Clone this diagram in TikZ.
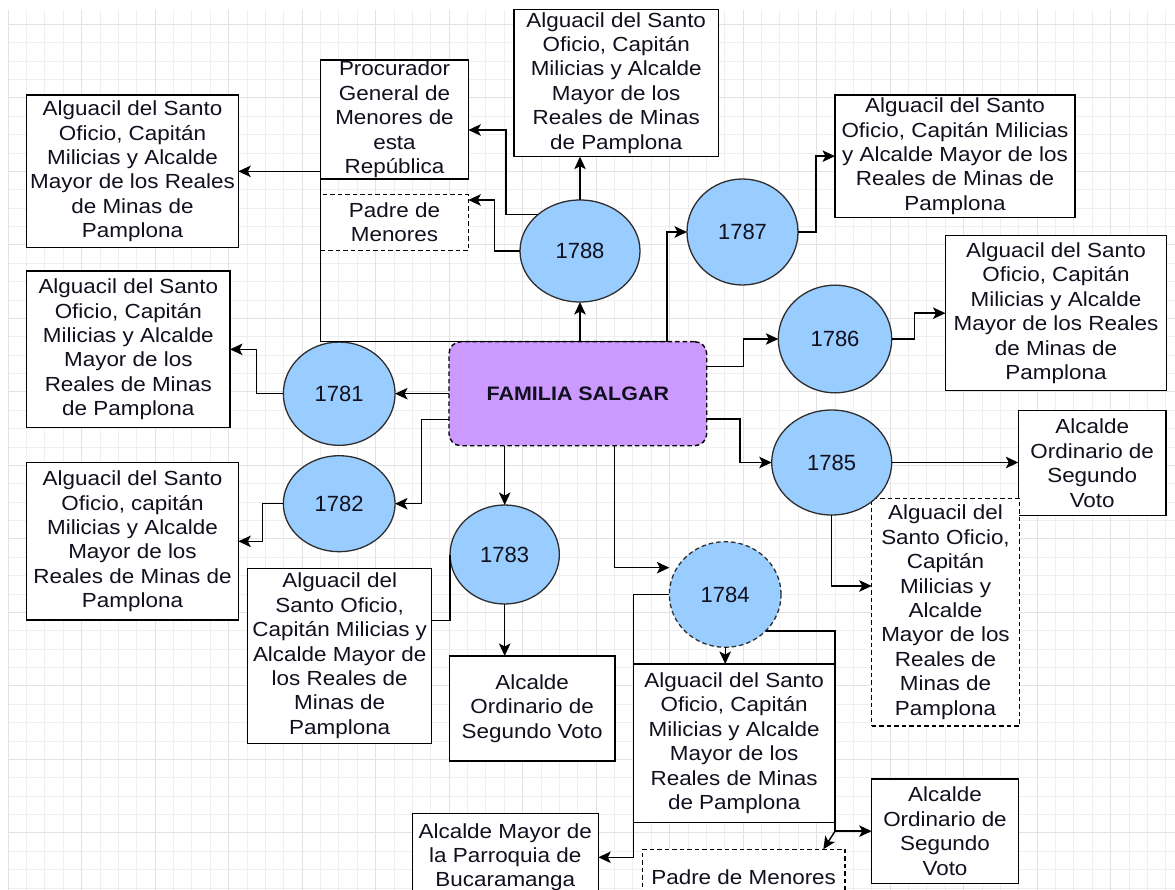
\documentclass[tikz,border=0pt]{standalone}
\usepackage{fontspec}
\setmainfont{Liberation Sans}[FakeStretch=1.1]
\newfontfamily\numfont{Liberation Sans}
\usetikzlibrary{shapes.geometric,arrows.meta,calc}

\definecolor{gridminor}{HTML}{EFEFEF}
\definecolor{gridmajor}{HTML}{E2E2E2}
\definecolor{yearfill}{HTML}{99CCFF}
\definecolor{famfill}{HTML}{CC99FF}
\definecolor{inkcol}{HTML}{10101E}
\definecolor{rimcol}{HTML}{2E2E2E}

\tikzset{
  every node/.style={inner sep=0pt, outer sep=0pt},
  txt/.style={font=\fontsize{20.4}{24.4}\selectfont, text=inkcol, align=center},
  card/.style={txt, rectangle, draw=black, fill=white, line width=1.4pt},
  dashcard/.style={card, dash pattern=on 4.5pt off 3pt},
  year/.style={ellipse, draw=rimcol, fill=yearfill, line width=1.3pt,
    font=\numfont\fontsize{22}{26}\selectfont, text=inkcol},
  family/.style={rectangle, rounded corners=12pt, draw=black, fill=famfill,
    dash pattern=on 4.5pt off 3pt, line width=1.4pt,
    font=\bfseries\fontsize{19.5}{23}\selectfont, text=inkcol},
  link/.style={draw=black, line width=1.4pt, -{Stealth[length=12.5pt,width=11.5pt,inset=3pt]}},
  plainlink/.style={draw=black, line width=1.4pt},
}

\begin{document}
\begin{tikzpicture}[x=1pt,y=-1pt]
\useasboundingbox (0,0) rectangle (1175,890);
\fill[white] (0,0) rectangle (1175,890);
\clip (8,10) rectangle (1175,890);

% background grid
\foreach \i in {0,...,63} \draw[gridminor, line width=0.7pt] ({8+18.375*\i},10) -- ++(0,880);
\foreach \j in {1,...,48} \draw[gridminor, line width=0.7pt] (8,{5.95+18.375*\j}) -- ++(1167,0);
\foreach \i in {0,...,15} \draw[gridmajor, line width=0.9pt] ({8+73.5*\i},10) -- ++(0,880);
\foreach \j in {0,...,11} \draw[gridmajor, line width=0.9pt] (8,{24.3+73.5*\j}) -- ++(1167,0);

% offices
\node[card, minimum width=204.3pt, minimum height=147.7pt] (boxT) at (616.2,82.85)
  {Alguacil del Santo\\Oficio, Capitán\\Milicias y Alcalde\\Mayor de los\\Reales de Minas\\de Pamplona};
\node[card, minimum width=211.6pt, minimum height=152.7pt] (boxA) at (132.5,171.35)
  {Alguacil del Santo\\Oficio, Capitán\\Milicias y Alcalde\\Mayor de los Reales\\de Minas de\\Pamplona};
\node[card, minimum width=147.6pt, minimum height=119pt] (proc) at (394.5,119.5)
  {Procurador\\General de\\Menores de\\esta\\República};
\node[dashcard, minimum width=147.6pt, minimum height=56.4pt] (padreT) at (394.5,222.5)
  {Padre de\\Menores};
\node[card, minimum width=240pt, minimum height=122.3pt] (boxR1) at (955,156.15)
  {Alguacil del Santo\\Oficio, Capitán Milicias\\y Alcalde Mayor de los\\Reales de Minas de\\Pamplona};
\node[card, minimum width=221pt, minimum height=155pt] (boxR2) at (1056,313.2)
  {Alguacil del Santo\\Oficio, Capitán\\Milicias y Alcalde\\Mayor de los Reales\\de Minas de\\Pamplona};
\node[card, minimum width=147.7pt, minimum height=105pt] (boxR3) at (1092.2,463.2)
  {Alcalde\\Ordinario de\\Segundo\\Voto};
\node[dashcard, minimum width=147.6pt, minimum height=227.7pt] (boxR4) at (945.5,612.2)
  {Alguacil del\\Santo Oficio,\\Capitán\\Milicias y\\Alcalde\\Mayor de los\\Reales de\\Minas de\\Pamplona};
\node[card, minimum width=203.3pt, minimum height=156.7pt] (boxB) at (128.35,349.35)
  {Alguacil del Santo\\Oficio, Capitán\\Milicias y Alcalde\\Mayor de los\\Reales de Minas\\de Pamplona};
\node[card, minimum width=211.6pt, minimum height=157.3pt] (boxC) at (132.5,541.35)
  {Alguacil del Santo\\Oficio, capitán\\Milicias y Alcalde\\Mayor de los\\Reales de Minas de\\Pamplona};
\node[card, minimum width=184pt, minimum height=175pt] (boxD) at (339.7,655.8)
  {Alguacil del\\Santo Oficio,\\Capitán Milicias y\\Alcalde Mayor de\\los Reales de\\Minas de\\Pamplona};
\node[card, minimum width=165.7pt, minimum height=105pt] (boxE) at (532.15,708.5)
  {Alcalde\\Ordinario de\\Segundo Voto};
\node[card, minimum width=201.7pt, minimum height=158.3pt] (boxF) at (734.15,743.15)
  {Alguacil del Santo\\Oficio, Capitán\\Milicias y Alcalde\\Mayor de los\\Reales de Minas\\de Pamplona};
\node[card, minimum width=146.6pt, minimum height=104.3pt] (boxG) at (945,831.15)
  {Alcalde\\Ordinario de\\Segundo\\Voto};
\node[dashcard, minimum width=202.7pt, minimum height=56.4pt] (boxH) at (743.65,877.5)
  {Padre de Menores};
\node[card, minimum width=186pt, minimum height=88pt] (boxI) at (505.3,857.3)
  {Alcalde Mayor de\\la Parroquia de\\Bucaramanga};

% family and years
\node[family, minimum width=257.7pt, minimum height=104pt] (fam) at (577.85,393.7) {FAMILIA SALGAR};
\node[year, minimum width=120pt, minimum height=102pt] (n1788) at (580,251) {1788};
\node[year, minimum width=111pt, minimum height=106pt] (n1787) at (742.5,232) {1787};
\node[year, minimum width=113.4pt, minimum height=107.7pt] (n1786) at (835,339) {1786};
\node[year, minimum width=120pt, minimum height=105pt] (n1785) at (831.7,462.5) {1785};
\node[year, minimum width=111.7pt, minimum height=103.3pt] (n1781) at (339.2,393.7) {1781};
\node[year, minimum width=111.7pt, minimum height=96pt] (n1782) at (339.2,503.7) {1782};
\node[year, minimum width=109.3pt, minimum height=99pt] (n1783) at (504.7,554.5) {1783};
\node[year, dash pattern=on 4.5pt off 3pt, minimum width=111.7pt, minimum height=105.6pt] (n1784) at (725.2,594.5) {1784};

% bend columns
\coordinate (c1) at (667,0);
\coordinate (cA) at (320.7,0);

% connectors
\draw[link] (fam.north -| c1) -- (fam.north -| cA) |- (boxA.east);
\draw[link] (fam.north -| c1) |- (n1787.west);
\draw[link] (fam.north -| n1788.south) -- (n1788.south);
\draw[link] (n1788.north) -- (n1788.north |- boxT.south);
\draw[link] (n1788.139) -- ++(-32,0) |- ($(proc.east)+(0,10.5)$);
\draw[link] (n1788.west) -- ++(-25.7,0) |- ($(padreT.east)+(0,-22.5)$);
\draw[link] (n1787.east) -- ++(18,0) |- (boxR1.west);
\draw[link] ($(fam.east)+(0,-27)$) -- ++(36.6,0) |- (n1786.west);
\draw[link] (n1786.east) -- ++(23,0) |- (boxR2.west);
\draw[link] ($(fam.east)+(0,25.3)$) -- ++(33.3,0) |- (n1785.west);
\draw[link] (n1785.east) -- (n1785.east -| boxR3.west);
\draw[link] (n1785.south) |- ($(boxR4.west)+(0,-26.2)$);
\draw[link] (fam.west) -- (n1781.east);
\draw[link] (n1781.west) -- ++(-26.6,0) |- (boxB.east);
\draw[link] ($(fam.west)+(0,25.6)$) -- ++(-27.3,0) |- (n1782.east);
\draw[link] (n1782.west) -- ++(-21,0) |- (boxC.east);
\draw[link] (fam.south -| n1783.north) -- (n1783.north);
\draw[plainlink] (n1783.west) |- ($(boxD.east)+(0,-35.1)$);
\draw[link] (n1783.south) -- (n1783.south |- boxE.north);
\draw[link] ($(fam.south)+(36.5,0)$) |- ($(n1784.west)+(0,-26.8)$);
\draw[link] (n1784.south) -- (n1784.south |- boxF.north);
\draw[link] (n1784.west) -- ++(-36,0) |- (boxI.east);
\draw[link] (n1784.-42) -| (boxF.east) |- (boxG.west);
\draw[link] (n1784.-42) -| (boxF.east) -- ($(boxF.south east)+(0,9)$) -- ($(boxH.north east)+(-21.7,0)$);
\end{tikzpicture}
\end{document}
